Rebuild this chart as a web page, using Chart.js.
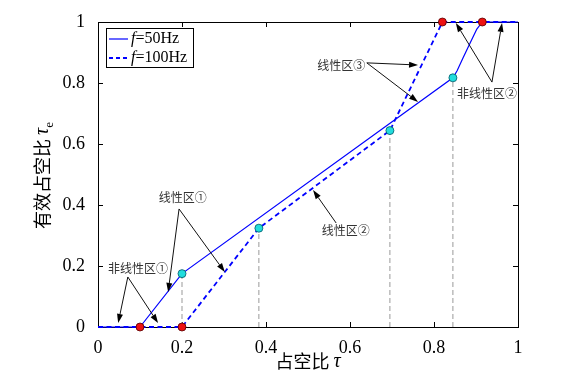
<!DOCTYPE html>
<html><head><meta charset="utf-8">
<script src="https://cdn.jsdelivr.net/npm/chart.js@4.4.1/dist/chart.umd.min.js"></script>
<style>html,body{margin:0;padding:0;background:#fff;}#wrap{width:586px;height:391px;}</style>
</head><body><div id="wrap"><canvas id="c" width="586" height="391"></canvas></div>
<script>
// ---- data ----
const tau50 = [0, 0.1, 0.2, 0.845, 0.855, 0.869, 0.886, 0.902, 0.915, 1];
const tauE50 = [0, 0, 0.175, 0.817, 0.84, 0.882, 0.931, 0.977, 1, 1];
const tau100 = [0, 0.2, 0.383, 0.695, 0.82, 1];
const tauE100 = [0, 0, 0.324, 0.644, 1, 1];
const redX = [0.1, 0.2, 0.82, 0.915];
const redY = [0, 0, 1, 1];
const cyanX = [0.2, 0.383, 0.695, 0.845];
const cyanY = [0.175, 0.324, 0.644, 0.817];
const xTicks = [0, 0.2, 0.4, 0.6, 0.8, 1];
const yTicks = [0, 0.2, 0.4, 0.6, 0.8, 1];
const seriesNames = ['50Hz', '100Hz'];
// annotations: label, label anchor [x,y], arrow start [x,y], arrow tips
const noteLabels = ['非线性区①', '线性区①', '线性区②', '线性区③', '非线性区②'];
const noteAt = [[0.095, 0.193], [0.202, 0.426], [0.59, 0.315], [0.579, 0.859], [0.926, 0.767]];
const noteFrom = [[0.071, 0.164], [0.193, 0.387], [0.567, 0.341], [0.64, 0.866], [0.938, 0.803]];
const noteTips = [
  [[0.048, 0.013], [0.143, 0.013]],
  [[0.167, 0.115], [0.302, 0.18]],
  [[0.512, 0.449]],
  [[0.762, 0.859], [0.762, 0.738]],
  [[0.852, 0.997], [0.962, 0.997]]
];

const pts = (xs, ys) => xs.map((x, i) => ({x, y: ys[i]}));
const guides = [];
cyanX.forEach((x, i) => { guides.push({x, y: 0}, {x, y: cyanY[i]}, {x, y: null}); });

const SERIF = '"Liberation Serif", "Times New Roman", serif';
const CJK = '"Noto Sans CJK SC", sans-serif';

const decor = {
  id: 'decor',
  beforeDatasetsDraw(chart) {
    const ctx = chart.ctx, xs = chart.scales.x, ys = chart.scales.y, a = chart.chartArea;
    const X = v => xs.getPixelForValue(v), Y = v => ys.getPixelForValue(v);
    ctx.save();
    ctx.strokeStyle = '#000'; ctx.lineWidth = 1;
    ctx.strokeRect(Math.round(a.left) + 0.5, Math.round(a.top) + 0.5, Math.round(a.right - a.left), Math.round(a.bottom - a.top));
    ctx.beginPath();
    xTicks.forEach(t => { const px = Math.round(X(t)) + 0.5; ctx.moveTo(px, a.bottom); ctx.lineTo(px, a.bottom - 5); ctx.moveTo(px, a.top); ctx.lineTo(px, a.top + 5); });
    yTicks.forEach(t => { const py = Math.round(Y(t)) + 0.5; ctx.moveTo(a.left, py); ctx.lineTo(a.left + 5, py); ctx.moveTo(a.right, py); ctx.lineTo(a.right - 5, py); });
    ctx.stroke();
    ctx.restore();
  },
  afterDatasetsDraw(chart) {
    const ctx = chart.ctx, xs = chart.scales.x, ys = chart.scales.y, a = chart.chartArea;
    const X = v => xs.getPixelForValue(v), Y = v => ys.getPixelForValue(v);
    ctx.save();
    // annotations
    ctx.strokeStyle = '#111'; ctx.lineWidth = 1;
    ctx.font = '12px ' + CJK; ctx.textAlign = 'center'; ctx.textBaseline = 'middle';
    noteLabels.forEach((lab, i) => {
      ctx.fillStyle = '#333';
      ctx.fillText(lab, X(noteAt[i][0]), Y(noteAt[i][1]));
      const sx = X(noteFrom[i][0]), sy = Y(noteFrom[i][1]);
      noteTips[i].forEach(t => {
        const tx = X(t[0]), ty = Y(t[1]);
        const ang = Math.atan2(ty - sy, tx - sx);
        const L = 9, W = 3;
        const bx = tx - L * Math.cos(ang), by = ty - L * Math.sin(ang);
        ctx.beginPath(); ctx.moveTo(sx, sy); ctx.lineTo(bx, by); ctx.stroke();
        ctx.fillStyle = '#000';
        ctx.beginPath(); ctx.moveTo(tx, ty);
        ctx.lineTo(bx + W * Math.sin(ang), by - W * Math.cos(ang));
        ctx.lineTo(bx - W * Math.sin(ang), by + W * Math.cos(ang));
        ctx.closePath(); ctx.fill();
      });
    });
    // legend
    const lx = a.left + 8, ly = a.top + 6;
    ctx.fillStyle = '#fff'; ctx.fillRect(lx, ly, 87, 39);
    ctx.strokeStyle = '#000'; ctx.lineWidth = 1; ctx.strokeRect(lx + 0.5, ly + 0.5, 87, 39);
    ctx.textAlign = 'left'; ctx.textBaseline = 'middle';
    [0, 1].forEach(k => {
      const yy = ly + 11 + k * 19;
      ctx.strokeStyle = '#0000ff'; ctx.lineWidth = k ? 1.8 : 1.2;
      ctx.setLineDash(k ? [4, 3] : []);
      ctx.beginPath(); ctx.moveTo(lx + 3, yy); ctx.lineTo(lx + 22, yy); ctx.stroke();
      ctx.setLineDash([]);
      ctx.fillStyle = '#000';
      ctx.font = 'italic 16px ' + SERIF;
      let px = lx + 25;
      ctx.fillText('f', px, yy); px += ctx.measureText('f').width;
      ctx.font = '16px ' + SERIF;
      ctx.fillText('=' + seriesNames[k], px, yy);
    });
    // axis titles
    ctx.fillStyle = '#000';
    const drawParts = (parts, x0, y0) => {
      let w = 0; parts.forEach(p => { ctx.font = p[1]; w += ctx.measureText(p[0]).width; });
      let px = x0 - w / 2;
      parts.forEach(p => { ctx.font = p[1]; ctx.fillText(p[0], px, y0 + (p[2] || 0)); px += ctx.measureText(p[0]).width; });
    };
    ctx.textBaseline = 'alphabetic';
    drawParts([['占空比 ', '18px ' + CJK], ['τ', 'italic 20px ' + SERIF, -1]], (a.left + a.right) / 2, 368);
    ctx.save();
    ctx.translate(49, (a.top + a.bottom) / 2 + 1);
    ctx.rotate(-Math.PI / 2);
    drawParts([['有效占空比 ', '18px ' + CJK], ['τ', 'italic 20px ' + SERIF, -1], ['e', '13px ' + SERIF, 4]], 0, 0);
    ctx.restore();
    ctx.restore();
  }
};

new Chart(document.getElementById('c'), {
  type: 'scatter',
  data: {
    datasets: [
      { data: pts(redX, redY), clip: false, showLine: false, pointRadius: 4, pointBackgroundColor: '#ee1111', pointBorderColor: '#550000', pointBorderWidth: 0.8 },
      { data: pts(cyanX, cyanY), clip: false, showLine: false, pointRadius: 4, pointBackgroundColor: '#22dddd', pointBorderColor: '#005566', pointBorderWidth: 0.8 },
      { data: pts(tau50, tauE50), clip: false, showLine: true, borderColor: '#0000ff', borderWidth: 1.2, pointRadius: 0, tension: 0 },
      { data: pts(tau100, tauE100), clip: false, showLine: true, borderColor: '#0000ff', borderWidth: 1.8, borderDash: [5, 3.5], pointRadius: 0, tension: 0 },
      { data: guides, showLine: true, spanGaps: false, borderColor: '#999', borderWidth: 1, borderDash: [5, 3], pointRadius: 0 }
    ]
  },
  options: {
    responsive: false, animation: false,
    layout: { padding: { top: 22, right: 68, left: 0, bottom: 0 } },
    plugins: { legend: { display: false }, tooltip: { enabled: false } },
    scales: {
      x: {
        type: 'linear', min: 0, max: 1,
        afterBuildTicks: s => { s.ticks = xTicks.map(v => ({value: v})); },
        afterFit: s => { s.height = 64; },
        grid: { display: false }, border: { display: false },
        ticks: { color: '#000', font: { family: SERIF, size: 18 }, padding: 2, maxRotation: 0, callback: v => String(v) }
      },
      y: {
        type: 'linear', min: 0, max: 1,
        afterBuildTicks: s => { s.ticks = yTicks.map(v => ({value: v})); },
        afterFit: s => { s.width = 98; },
        grid: { display: false }, border: { display: false },
        ticks: { color: '#000', font: { family: SERIF, size: 18 }, padding: 5, callback: v => String(v) }
      }
    }
  },
  plugins: [decor]
});
</script></body></html>
